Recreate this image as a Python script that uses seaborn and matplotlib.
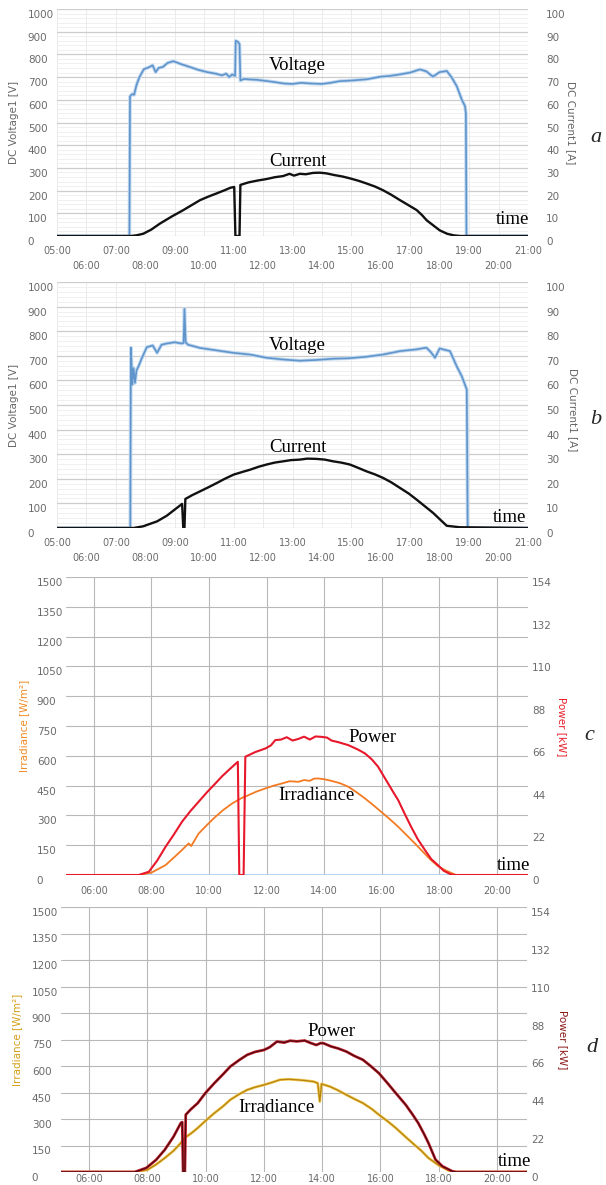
import matplotlib
matplotlib.use("Agg")
import matplotlib.pyplot as plt
import matplotlib.transforms as mtransforms
from matplotlib.ticker import MultipleLocator
import seaborn as sns
import pandas as pd

# ---------------- data ----------------
odd_hours = [5, 7, 9, 11, 13, 15, 17, 19, 21]
odd_labels = ["05:00", "07:00", "09:00", "11:00", "13:00", "15:00", "17:00", "19:00", "21:00"]
even_hours = [6, 8, 10, 12, 14, 16, 18, 20]
even_labels = ["06:00", "08:00", "10:00", "12:00", "14:00", "16:00", "18:00", "20:00"]

volt_ticks = [0, 100, 200, 300, 400, 500, 600, 700, 800, 900, 1000]
curr_ticks = [0, 10, 20, 30, 40, 50, 60, 70, 80, 90, 100]
irr_ticks = [0, 150, 300, 450, 600, 750, 900, 1050, 1200, 1350, 1500]
pow_ticks = [0, 22, 44, 66, 88, 110, 132, 154]

# panel a
a_time_v = [5.0, 7.46, 7.48, 7.55, 7.62, 7.7, 7.8, 7.95, 8.1, 8.25, 8.35, 8.45, 8.6, 8.75, 8.95,
            9.2, 9.5, 9.8, 10.1, 10.4, 10.6, 10.75, 10.85, 10.95, 11.05, 11.07, 11.15, 11.2, 11.23,
            11.35, 11.5, 11.8, 12.1, 12.4, 12.7, 13.0, 13.3, 13.6, 14.0, 14.3, 14.6, 15.0, 15.5,
            16.0, 16.3, 16.65, 17.0, 17.33, 17.55, 17.77, 18.0, 18.24, 18.4, 18.58, 18.75, 18.86,
            18.89, 18.91, 21.0]
a_volt = [0, 0, 615, 625, 622, 665, 700, 735, 742, 752, 722, 740, 745, 762, 770,
          758, 745, 732, 722, 715, 708, 715, 700, 712, 705, 860, 855, 845, 685,
          692, 690, 688, 683, 678, 672, 670, 675, 672, 670, 675, 682, 685, 690,
          702, 705, 712, 720, 734, 725, 702, 722, 727, 700, 660, 601, 572,
          540, 0, 0]
a_time_i = [5.0, 7.5, 7.7, 7.93, 8.2, 8.5, 8.9, 9.29, 9.6, 9.86, 10.15, 10.43, 10.7, 10.9, 11.02,
            11.06, 11.2, 11.23, 11.5, 11.8, 12.12, 12.4, 12.68, 12.9, 13.05, 13.25, 13.45, 13.7,
            13.93, 14.15, 14.4, 14.7, 14.95, 15.25, 15.5, 15.8, 16.07, 16.35, 16.65, 16.95, 17.22,
            17.4, 17.56, 17.8, 18.0, 18.25, 18.47, 18.7, 21.0]
a_curr = [0, 0, 0.3, 1.0, 2.8, 5.5, 8.6, 11.4, 13.8, 15.8, 17.4, 18.8, 20.2, 21.3, 21.6,
          0, 0, 22.5, 23.6, 24.4, 25.1, 25.9, 26.4, 27.4, 26.6, 27.4, 27.2, 27.8,
          27.9, 27.6, 26.9, 26.2, 25.4, 24.3, 23.2, 21.8, 20.2, 18.2, 15.8, 13.5, 11.4,
          9.2, 6.9, 4.5, 2.5, 1.0, 0.3, 0, 0]

# panel b
b_time_v = [5.0, 7.49, 7.51, 7.56, 7.6, 7.65, 7.7, 7.78, 7.88, 8.05, 8.25, 8.4, 8.55, 8.73, 9.0,
            9.23, 9.3, 9.33, 9.37, 9.45, 9.86, 10.42, 11.0, 11.56, 12.12, 12.68, 13.25, 13.8,
            14.37, 14.9, 15.5, 16.07, 16.65, 17.2, 17.55, 17.7, 17.84, 18.0, 18.12, 18.35, 18.58,
            18.75, 18.92, 18.95, 21.0]
b_volt = [0, 0, 733, 583, 650, 590, 640, 660, 690, 735, 742, 712, 745, 750, 755,
          750, 752, 891, 755, 745, 732, 722, 712, 705, 692, 685, 680, 683,
          688, 690, 696, 705, 719, 726, 733, 715, 692, 730, 726, 719, 657,
          617, 563, 0, 0]
b_time_i = [5.0, 7.6, 7.93, 8.4, 8.73, 9.0, 9.25, 9.29, 9.33, 9.36, 9.6, 9.86, 10.15, 10.43, 10.7,
            11.0, 11.3, 11.56, 11.85, 12.12, 12.4, 12.68, 12.95, 13.25, 13.5, 13.8, 14.1, 14.38,
            14.65, 14.95, 15.2, 15.5, 15.8, 16.07, 16.35, 16.65, 16.95, 17.22, 17.5, 17.78, 18.0,
            18.24, 18.69, 21.0]
b_curr = [0, 0, 0.7, 2.7, 5.0, 7.5, 9.8, 0, 0, 11.8, 13.4, 14.9, 16.6, 18.3, 20.0,
          21.7, 22.8, 23.7, 24.9, 25.8, 26.6, 27.1, 27.6, 27.8, 28.2, 28.1, 27.8, 27.1,
          26.6, 25.8, 24.6, 23.1, 21.8, 20.4, 18.6, 16.3, 14.0, 11.5, 8.8, 6.1, 3.6,
          0.9, 0.3, 0]

# panel c
c_time_p = [5.0, 7.56, 7.91, 8.2, 8.49, 8.78, 9.06, 9.35, 9.64, 9.93, 10.22, 10.45, 10.68, 10.85,
            11.0, 11.05, 11.2, 11.26, 11.6, 11.96, 12.15, 12.3, 12.5, 12.7, 12.9, 13.1, 13.3, 13.5,
            13.7, 13.9, 14.1, 14.25, 14.5, 14.84, 15.15, 15.42, 15.65, 15.87, 16.05, 16.22, 16.4,
            16.57, 16.8, 17.02, 17.25, 17.5, 17.72, 17.95, 18.15, 18.4, 18.55, 21.1]
c_power = [0, 0, 1.7, 7.5, 14.6, 21.0, 27.5, 33.0, 37.9, 42.8, 47.3, 51.0, 54.2, 56.5,
           58.5, 0, 0, 61.1, 63.5, 65.4, 67.0, 69.7, 70.0, 71.2, 69.5, 70.3, 71.5, 70.0,
           71.6, 71.4, 71.0, 69.5, 68.6, 67.1, 65.0, 62.8, 59.8, 56.0, 51.5, 47.3, 42.8,
           38.7, 31.5, 24.9, 18.5, 12.9, 8.2, 5.1, 2.2, 0.3, 0, 0]
c_time_g = [5.0, 7.56, 8.0, 8.49, 8.78, 9.06, 9.29, 9.38, 9.5, 9.64, 9.93, 10.22, 10.5, 10.8, 11.1,
            11.37, 11.65, 11.96, 12.25, 12.54, 12.8, 13.1, 13.3, 13.5, 13.65, 13.8, 14.0, 14.25,
            14.55, 14.84, 15.13, 15.42, 15.7, 15.98, 16.28, 16.57, 16.86, 17.15, 17.43, 17.71,
            17.95, 18.19, 18.53, 18.6, 21.1]
c_irr = [0, 0, 12, 50, 88, 126, 159, 146, 175, 209, 252, 293, 328, 360, 385,
         402, 420, 436, 450, 461, 472, 469, 478, 474, 485, 486, 482, 474,
         462, 444, 416, 385, 352, 318, 281, 243, 201, 159, 117, 75,
         45, 25, 3, 0, 0]

# panel d
d_time_p = [5.0, 7.57, 7.97, 8.3, 8.6, 8.9, 9.15, 9.2, 9.23, 9.29, 9.32, 9.5, 9.73, 10.0, 10.3,
            10.6, 10.85, 11.15, 11.43, 11.7, 12.0, 12.2, 12.45, 12.7, 12.9, 13.13, 13.4, 13.6,
            13.8, 13.95, 14.05, 14.3, 14.55, 14.83, 15.1, 15.4, 15.65, 15.95, 16.25, 16.53,
            16.87, 17.1, 17.3, 17.5, 17.65, 17.89, 18.13, 18.47, 18.6, 21.1]
d_power = [0, 0, 2.4, 7.0, 12.9, 20.5, 28.4, 29.0, 0, 0, 33.3, 36.5, 40.0, 46.0, 51.6,
           56.8, 61.3, 65.0, 68.1, 69.8, 70.9, 72.5, 75.8, 75.2, 76.3, 75.9, 76.4, 75.0,
           73.8, 74.9, 74.8, 73.0, 71.8, 70.0, 67.5, 65.2, 61.8, 57.4, 51.5, 45.8,
           39.0, 33.5, 28.4, 22.0, 16.8, 7.2, 3.3, 0.4, 0, 0]
d_time_g = [5.0, 7.57, 8.0, 8.3, 8.6, 8.9, 9.15, 9.27, 9.5, 9.73, 10.0, 10.3, 10.6, 10.85, 11.15,
            11.43, 11.7, 12.0, 12.3, 12.55, 12.85, 13.13, 13.4, 13.7, 13.85, 13.92, 13.98, 14.1,
            14.26, 14.55, 14.83, 15.1, 15.4, 15.7, 15.95, 16.25, 16.53, 16.8, 17.1, 17.4, 17.65,
            18.0, 18.35, 18.55, 21.1]
d_irr = [0, 0, 12, 42, 79, 120, 164, 192, 218, 249, 290, 333, 372, 409, 440,
         465, 480, 493, 508, 522, 525, 522, 518, 512, 503, 399, 499, 492,
         484, 462, 437, 414, 390, 357, 324, 287, 249, 208, 164, 121, 79,
         38, 8, 0, 0]

# ---------------- figure ----------------
sns.set_style("white")
plt.rcParams["font.family"] = ["DejaVu Sans"]

W, H = 606, 1185
fig = plt.figure(figsize=(W / 100, H / 100), dpi=100)


def add_ax(l, t, r, b):
    return fig.add_axes([l / W, 1 - b / H, (r - l) / W, (b - t) / H])


def line(ax, t, v, color, lw, z=3):
    df = pd.DataFrame({"t": t, "v": v})
    sns.lineplot(data=df, x="t", y="v", ax=ax, color=color, linewidth=lw,
                 estimator=None, sort=False, zorder=z)
    ax.set_xlabel("")
    ax.set_ylabel("")


def ftext(px, py, s, **kw):
    fig.text(px / W, 1 - py / H, s, **kw)


down = mtransforms.ScaledTranslation(0, -0.05, fig.dpi_scale_trans)
tick_col = "#6a6a6a"
serif = dict(family="Liberation Serif", size=13.5, color="black", ha="center", va="center")


def style_vc(ax, ax2):
    ax.set_xlim(5, 21)
    ax.set_ylim(0, 1000)
    ax2.set_ylim(0, 100)
    ax.set_xticks(odd_hours)
    ax.set_xticklabels(odd_labels)
    ax.set_xticks(even_hours, minor=True)
    ax.set_xticklabels(even_labels, minor=True)
    ax.set_yticks(volt_ticks)
    ax.set_yticklabels([str(v) for v in volt_ticks])
    ax.yaxis.set_minor_locator(MultipleLocator(20))
    ax2.set_yticks(curr_ticks)
    ax2.set_yticklabels([str(v) for v in curr_ticks])
    ax.tick_params(axis="x", which="major", length=0, pad=7, labelsize=7, labelcolor=tick_col)
    ax.tick_params(axis="x", which="minor", length=0, pad=18, labelsize=7, labelcolor=tick_col)
    ax.tick_params(axis="y", which="both", length=0, pad=21, labelsize=7.5, labelcolor=tick_col)
    ax2.tick_params(axis="y", length=0, pad=13, labelsize=7.5, labelcolor=tick_col)
    for lab in ax.get_yticklabels():
        lab.set_ha("left")
    for s in list(ax.spines.values()) + list(ax2.spines.values()):
        s.set_visible(False)
    ax.grid(True, axis="y", which="major", color="#cdcdcd", lw=0.9)
    ax.grid(True, axis="y", which="minor", color="#eeeeee", lw=0.6)
    ax.grid(True, axis="x", which="both", color="#e6e6e6", lw=0.6)
    ax2.grid(False)
    ax.set_axisbelow(True)


def style_pi(ax, ax2, xlim, xpad):
    ax.set_xlim(*xlim)
    ax.set_ylim(0, 1500)
    ax2.set_ylim(0, 154)
    ax.set_xticks(even_hours)
    ax.set_xticklabels(even_labels)
    ax.set_yticks(irr_ticks)
    ax.set_yticklabels([str(v) for v in irr_ticks])
    ax2.set_yticks(pow_ticks)
    ax2.set_yticklabels([str(v) for v in pow_ticks])
    ax.tick_params(axis="x", length=0, pad=xpad, labelsize=7, labelcolor=tick_col)
    ax.tick_params(axis="y", length=0, pad=21, labelsize=7.5, labelcolor=tick_col)
    ax2.tick_params(axis="y", length=0, pad=3, labelsize=7.5, labelcolor=tick_col)
    for lab in ax.get_yticklabels():
        lab.set_ha("left")
    for s in list(ax.spines.values()) + list(ax2.spines.values()):
        s.set_visible(False)
    ax.grid(True, which="major", color="#b8b8b8", lw=0.8)
    ax2.grid(False)
    ax.set_axisbelow(True)


# ---- panel a ----
axa = add_ax(57, 9, 528, 236)
axa2 = axa.twinx()
line(axa, a_time_v, a_volt, "#c2d9f0", 2.6, 2)
line(axa, a_time_v, a_volt, "#6095cc", 1.2, 3)
line(axa2, a_time_i, a_curr, "#111111", 1.7, 4)
style_vc(axa, axa2)

# ---- panel b ----
axb = add_ax(57, 282, 528, 528)
axb2 = axb.twinx()
line(axb, b_time_v, b_volt, "#c2d9f0", 2.6, 2)
line(axb, b_time_v, b_volt, "#6095cc", 1.2, 3)
line(axb2, b_time_i, b_curr, "#111111", 1.7, 4)
style_vc(axb, axb2)

# ---- panel c ----
axc = add_ax(66, 577, 528, 875)
axc2 = axc.twinx()
axc.axhline(0, color="#a8cdee", lw=1.2, zorder=2)
line(axc, c_time_g, c_irr, "#f47a22", 1.3, 3)
line(axc2, c_time_p, c_power, "#e8182c", 1.5, 4)
style_pi(axc, axc2, (5.03, 21.08), 8)

# ---- panel d ----
axd = add_ax(61, 907, 527, 1172)
axd2 = axd.twinx()
line(axd, d_time_g, d_irr, "#f2c850", 2.0, 2)
line(axd, d_time_g, d_irr, "#b58310", 0.9, 3)
line(axd2, d_time_p, d_power, "#c4202c", 2.0, 4)
line(axd2, d_time_p, d_power, "#4e0a10", 0.9, 5)
style_pi(axd, axd2, (5.04, 21.03), 1.5)

# shift y tick labels slightly below their grid lines
for ax in [axa, axa2, axb, axb2, axc, axc2, axd, axd2]:
    for lab in ax.get_yticklabels():
        lab.set_transform(lab.get_transform() + down)

# ---- axis titles ----
lab_kw = dict(size=7.5, ha="center", va="center")
ftext(14, 122, "DC Voltage1 [V]", rotation=90, color="#666666", **lab_kw)
ftext(571, 123, "DC Current1 [A]", rotation=270, color="#666666", **lab_kw)
ftext(14, 405, "DC Voltage1 [V]", rotation=90, color="#666666", **lab_kw)
ftext(573, 410, "DC Current1 [A]", rotation=270, color="#666666", **lab_kw)
ftext(24, 726, "Irradiance [W/m²]", rotation=90, color="#f08a24", **lab_kw)
ftext(562, 727, "Power [kW]", rotation=270, color="#e8202a", **lab_kw)
ftext(17, 1040, "Irradiance [W/m²]", rotation=90, color="#d4a01a", **lab_kw)
ftext(563, 1040, "Power [kW]", rotation=270, color="#8b1a1a", **lab_kw)

# ---- annotations ----
ftext(297, 65, "Voltage", **serif)
ftext(298, 161, "Current", **serif)
ftext(513, 220, "time", **serif)
ftext(297, 345, "Voltage", **serif)
ftext(298, 447, "Current", **serif)
ftext(510, 518, "time", **serif)
ftext(372, 738, "Power", **serif)
ftext(316, 795, "Irradiance", **serif)
ftext(514, 865, "time", **serif)
ftext(331, 1032, "Power", **serif)
ftext(276, 1108, "Irradiance", **serif)
ftext(515, 1162, "time", **serif)

letter = dict(family="Liberation Serif", style="italic", size=16, ha="center", va="center")
ftext(596, 137, "a", **letter)
ftext(596, 420, "b", **letter)
ftext(589, 736, "c", **letter)
ftext(592, 1047, "d", **letter)

fig.savefig("out.png", dpi=100)
